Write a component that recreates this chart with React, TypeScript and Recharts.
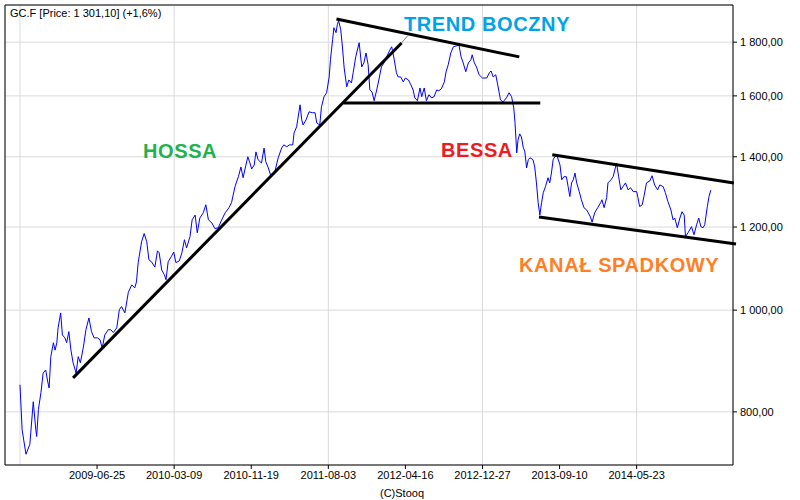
import { LineChart, Line, XAxis, YAxis, CartesianGrid, ReferenceLine } from 'recharts'

// trading session number (0 = first gridline) and gold close
const session = [
  0, 5, 14, 23, 31, 37, 39, 43, 49, 54,
  60, 65, 68, 72, 78, 82, 86, 89, 95, 99,
  105, 109, 114, 119, 124, 131, 136, 141, 148, 154,
  161, 167, 173, 181, 187, 192, 198, 206, 212, 218,
  226, 232, 237, 245, 253, 261, 268, 272, 276, 284,
  290, 296, 301, 307, 315, 321, 325, 331, 337, 341,
  346, 353, 359, 364, 372, 378, 384, 389, 397, 402,
  409, 414, 420, 428, 434, 440, 448, 455, 463, 471,
  479, 488, 494, 502, 510, 516, 521, 525, 532, 537,
  541, 547, 551, 556, 564, 570, 574, 580, 585, 595,
  603, 611, 616, 623, 629, 637, 640, 646, 654, 658,
  661, 668, 675, 683, 689, 693, 700, 704, 710, 716,
  722, 725, 730, 733, 738, 741, 744, 749, 753, 757,
  763, 768, 774, 778, 784, 792, 798, 803, 808, 813,
  817, 822, 827, 833, 838, 844, 850, 856, 864, 868,
  874, 879, 883, 889, 895, 900, 907, 913, 918, 922,
  928, 934, 938, 944, 949, 955, 961, 967, 973, 978,
  984, 991, 995, 1000, 1006, 1012, 1020, 1025, 1030, 1035,
  1041, 1047, 1053, 1056, 1061, 1066, 1072, 1080, 1090, 1096,
  1100, 1105, 1111, 1117, 1122, 1128, 1136, 1142, 1148, 1153,
  1156, 1160, 1163, 1167, 1171, 1175, 1179, 1183, 1187, 1191,
  1198, 1202, 1206, 1210, 1214, 1218, 1222, 1227, 1233, 1237,
  1241, 1245, 1249, 1254, 1261, 1265, 1270, 1276, 1280, 1284,
  1288, 1292, 1296, 1300, 1306, 1311, 1317, 1323, 1327, 1332,
  1336, 1342, 1349, 1356, 1359, 1364, 1370, 1373, 1380, 1385,
  1389, 1393, 1398, 1403, 1408, 1414, 1420, 1426, 1432, 1440,
  1443, 1447, 1453, 1457, 1463, 1471, 1476, 1482, 1489, 1494,
  1502, 1507, 1513, 1520, 1525, 1529, 1535, 1541, 1546, 1551,
  1554, 1560, 1568, 1574, 1580, 1585, 1590, 1595, 1599, 1605,
  1609, 1613,
]

const close = [
  849, 769, 729, 745, 818, 769, 758, 804, 835, 871,
  877, 854, 843, 903, 931, 916, 931, 962, 994, 947,
  941, 931, 954, 916, 891, 871, 903, 891, 922, 958,
  983, 954, 941, 941, 937, 920, 947, 958, 958, 952,
  962, 1001, 1008, 994, 1040, 1057, 1050, 1064, 1110, 1162,
  1183, 1162, 1117, 1112, 1099, 1139, 1134, 1092, 1081, 1069,
  1112, 1124, 1136, 1110, 1114, 1134, 1167, 1146, 1175, 1219,
  1232, 1185, 1224, 1238, 1260, 1219, 1211, 1196, 1198, 1219,
  1238, 1252, 1266, 1311, 1340, 1369, 1337, 1360, 1400, 1381,
  1363, 1375, 1415, 1391, 1381, 1427, 1385, 1366, 1345, 1354,
  1397, 1427, 1437, 1431, 1437, 1437, 1475, 1495, 1569, 1518,
  1501, 1518, 1545, 1542, 1542, 1508, 1501, 1562, 1597, 1611,
  1668, 1732, 1810, 1858, 1838, 1870, 1887, 1850, 1781, 1701,
  1632, 1657, 1646, 1683, 1743, 1798, 1705, 1720, 1758, 1713,
  1621, 1614, 1583, 1621, 1657, 1705, 1720, 1743, 1770, 1782,
  1732, 1683, 1668, 1668, 1650, 1664, 1657, 1639, 1621, 1593,
  1583, 1628, 1597, 1628, 1583, 1604, 1593, 1597, 1621, 1618,
  1625, 1650, 1687, 1713, 1758, 1782, 1786, 1790, 1743, 1720,
  1687, 1720, 1732, 1751, 1720, 1705, 1676, 1664, 1664, 1683,
  1690, 1668, 1676, 1628, 1586, 1579, 1593, 1611, 1597, 1559,
  1508, 1412, 1453, 1472, 1462, 1430, 1415, 1366, 1391, 1397,
  1391, 1369, 1322, 1266, 1232, 1266, 1294, 1311, 1337, 1322,
  1351, 1391, 1400, 1403, 1375, 1331, 1340, 1340, 1311, 1283,
  1322, 1331, 1351, 1322, 1297, 1274, 1252, 1246, 1238, 1227,
  1213, 1238, 1252, 1266, 1274, 1252, 1280, 1322, 1331, 1340,
  1360, 1381, 1340, 1302, 1311, 1322, 1302, 1308, 1297, 1297,
  1280, 1255, 1260, 1283, 1322, 1328, 1343, 1316, 1302, 1316,
  1311, 1294, 1269, 1246, 1219, 1224, 1198, 1224, 1241, 1232,
  1175, 1185, 1201, 1180, 1206, 1224, 1201, 1198, 1206, 1255,
  1283, 1301.1,
]

const dateTicks = [180, 360, 540, 720, 900, 1080, 1260, 1440]
const dateLabels = [
  '2009-06-25', '2010-03-09', '2010-11-19', '2011-08-03',
  '2012-04-16', '2012-12-27', '2013-09-10', '2014-05-23',
]
const priceTicks = [800, 1000, 1200, 1400, 1600, 1800]

// hand drawn trend lines: [session, price] pairs
const trendUp = [[124, 862], [891, 1797]]
const trendUpTail = [[891, 1797], [905, 1825]]
const trendTop = [[739, 1894], [1166, 1743]]
const support = [[755, 1575], [1215, 1575]]
const channelTop = [[1243, 1406], [1667, 1322]]
const channelBottom = [[1212, 1227], [1672, 1156]]

const data = session.map((t, i) => ({ t, price: close[i] }))

const fmtPrice = (v: number) => {
  const [int, dec] = v.toFixed(2).split('.')
  return int.replace(/\B(?=(\d{3})+(?!\d))/g, ' ') + ',' + dec
}

const fmtDate = (v: number) => {
  const i = dateTicks.indexOf(v)
  return i >= 0 ? dateLabels[i] : ''
}

const font = '"Liberation Sans", Arial, sans-serif'
const tickStyle = { fontSize: 11, fill: '#000', fontFamily: font }

const seg = (p: number[][]) => p.map(([x, y]) => ({ x, y }))

export default function App() {
  return (
    <div style={{ position: 'absolute', left: 0, top: 0, width: 800, height: 500, background: '#fff' }}>
      <LineChart
        width={800}
        height={500}
        data={data}
        margin={{ top: 5, right: 0, bottom: 0, left: 5 }}
      >
        <CartesianGrid stroke="#dadada" />
        <XAxis
          dataKey="t"
          type="number"
          domain={[-35, 1665]}
          ticks={dateTicks}
          tickFormatter={fmtDate}
          tick={tickStyle}
          tickSize={4}
          tickMargin={2}
          height={35}
          stroke="#000"
          allowDataOverflow
        />
        <YAxis
          orientation="right"
          scale="log"
          domain={[712, 1953]}
          ticks={priceTicks}
          tickFormatter={fmtPrice}
          tick={{ ...tickStyle, textAnchor: 'start' }}
          tickSize={4}
          tickMargin={3}
          width={67}
          stroke="#000"
          allowDataOverflow
        />
        <ReferenceLine x={0} stroke="#dadada" />
        <ReferenceLine x={-35} stroke="#000" />
        <ReferenceLine y={1953} stroke="#000" />
        <Line
          type="linear"
          dataKey="price"
          stroke="#0000ff"
          strokeWidth={1}
          dot={false}
          isAnimationActive={false}
        />
        <ReferenceLine segment={seg(trendUpTail)} stroke="#808080" strokeWidth={1} ifOverflow="visible" />
        <ReferenceLine segment={seg(trendUp)} stroke="#000" strokeWidth={3} ifOverflow="visible" />
        <ReferenceLine segment={seg(trendTop)} stroke="#000" strokeWidth={3} ifOverflow="visible" />
        <ReferenceLine segment={seg(support)} stroke="#000" strokeWidth={3} ifOverflow="visible" />
        <ReferenceLine segment={seg(channelTop)} stroke="#000" strokeWidth={3} ifOverflow="visible" />
        <ReferenceLine segment={seg(channelBottom)} stroke="#000" strokeWidth={3} ifOverflow="visible" />
      </LineChart>
      <svg
        width={800}
        height={500}
        style={{ position: 'absolute', left: 0, top: 0, pointerEvents: 'none' }}
        fontFamily={font}
      >
        <text x={10} y={17} fontSize={11} fill="#000">GC.F [Price: 1 301,10] (+1,6%)</text>
        <text x={402} y={497} fontSize={11} fill="#000" textAnchor="middle">(C)Stooq</text>
        <g fontSize={20} fontWeight="bold" letterSpacing={0.6}>
          <text x={404} y={31} fill="#00a2e8">TREND BOCZNY</text>
          <text x={143} y={158} fill="#22b14c">HOSSA</text>
          <text x={441} y={157} fill="#ed1c24">BESSA</text>
          <text x={519} y={272} fill="#ff7f27">KANAŁ SPADKOWY</text>
        </g>
      </svg>
    </div>
  )
}
